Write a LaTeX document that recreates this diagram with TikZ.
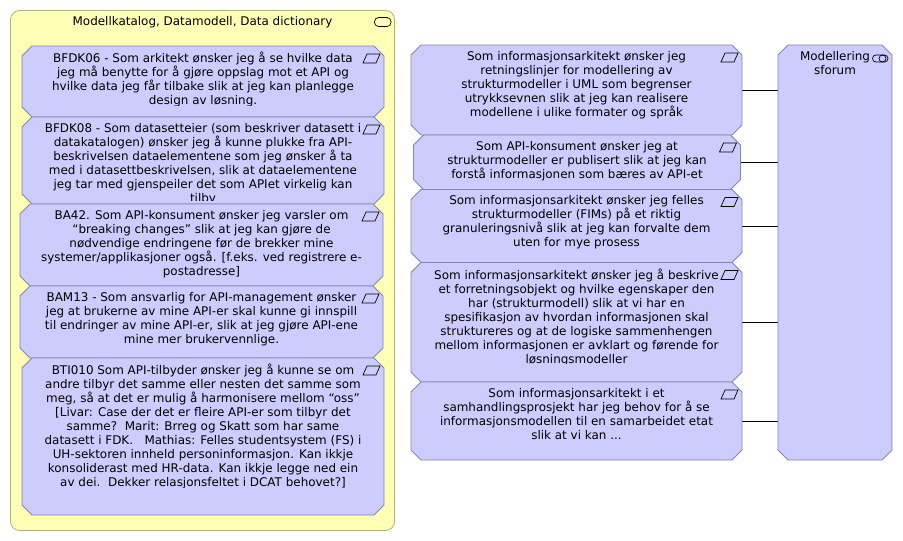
\documentclass[tikz,border=0pt]{standalone}
\usepackage{fontspec}
\setmainfont{DejaVu Sans}
\usetikzlibrary{calc}
\definecolor{boxfill}{HTML}{CCCCFF}
\definecolor{boxline}{HTML}{8484AE}
\definecolor{grpfill}{HTML}{FFFFB5}
\definecolor{grpline}{HTML}{B2B27A}
\tikzset{
  storyshape/.style={draw=boxline,fill=boxfill,line width=0.8pt,line join=miter},
  storybox/.style={rectangle,inner sep=0pt,outer sep=0pt},
  storytext/.style={anchor=north,align=center,inner sep=0pt,outer sep=0pt,text=black,
    font=\fontsize{11.95}{14}\selectfont},
  grpbox/.style={draw=grpline,fill=grpfill,line width=0.8pt,rounded corners=9pt},
  icon/.style={draw=black,line width=0.7pt},
  conn/.style={draw=black,line width=0.8pt},
}
% name, x1, y1, x2, y2, number of text lines, text
\newcommand{\storyb}[7]{%
  \node[storybox,minimum width={(#4-#2)*1pt},minimum height={(#5-#3)*1pt}] (#1) at ({(#2+#4)/2},{(#3+#5)/2}) {};
  \draw[storyshape] ($(#1.north west)+(10,0)$) -- ($(#1.north east)+(-10,0)$) -- ($(#1.north east)+(0,10)$)
    -- ($(#1.south east)+(0,-10)$) -- ($(#1.south east)+(-10,0)$) -- ($(#1.south west)+(10,0)$)
    -- ($(#1.south west)+(0,-10)$) -- ($(#1.north west)+(0,10)$) -- cycle;
  \begin{scope}
    \clip (#2,#3) rectangle (#4,{min(#3+17+14*(#6-1),#5-4)});
    \node[storytext] (#1-t) at ($(#1.north)+(0,6.2)$) {#7};
  \end{scope}
}
\newcommand{\paraicon}[1]{%
  \draw[icon] ($(#1.north east)+(-21,17)$) -- ($(#1.north east)+(-17,8)$) -- ($(#1.north east)+(-4,8)$) -- ($(#1.north east)+(-8,17)$) -- cycle;
}
\begin{document}
\begin{tikzpicture}[x=1pt,y=-1pt]
\useasboundingbox (0,0) rectangle (903,541);
\draw[grpbox] (10.5,10.5) rectangle (394.5,530.5);
\coordinate (grpne) at (394.5,10.5);
\node[storytext] (grptitle) at (202.5,16.7) {Modellkatalog, Datamodell, Data dictionary};
\draw[icon,rounded corners=4pt] ($(grpne)+(-20,7)$) rectangle ($(grpne)+(-3.5,16)$);

\storyb{a}{22}{46}{384}{117}{4}{BFDK06 - Som arkitekt ønsker jeg å se hvilke data\\jeg må benytte for å gjøre oppslag mot et API og\\hvilke data jeg får tilbake slik at jeg kan planlegge\\design av løsning.}
\paraicon{a}
\storyb{b}{22}{117}{384}{204}{6}{BFDK08 - Som datasetteier (som beskriver datasett i\\datakatalogen) ønsker jeg å kunne plukke fra API-\\beskrivelsen dataelementene som jeg ønsker å ta\\med i datasettbeskrivelsen, slik at dataelementene\\jeg tar med gjenspeiler det som APIet virkelig kan\\tilby}
\paraicon{b}
\storyb{c}{20}{204}{383}{286}{5}{BA42. Som API-konsument ønsker jeg varsler om\\“breaking changes” slik at jeg kan gjøre de\\nødvendige endringene før de brekker mine\\systemer/applikasjoner også. [f.eks. ved registrere e-\\postadresse]}
\paraicon{c}
\storyb{d}{20}{286}{383}{358}{4}{BAM13 - Som ansvarlig for API-management ønsker\\jeg at brukerne av mine API-er skal kunne gi innspill\\til endringer av mine API-er, slik at jeg gjøre API-ene\\mine mer brukervennlige.}
\paraicon{d}
\storyb{e}{22}{358}{384}{515}{9}{BTI010 Som API-tilbyder ønsker jeg å kunne se om\\andre tilbyr det samme eller nesten det samme som\\meg, så at det er mulig å harmonisere mellom “oss”\\{}[Livar: Case der det er fleire API-er som tilbyr det\\samme?\ \ Marit: Brreg og Skatt som har same\\datasett i FDK.\ \ \ Mathias: Felles studentsystem (FS) i\\UH-sektoren innheld personinformasjon. Kan ikkje\\konsoliderast med HR-data. Kan ikkje legge ned ein\\av dei.\ \ Dekker relasjonsfeltet i DCAT behovet?]}
\paraicon{e}

\storyb{r}{411}{45}{742}{135}{5}{Som informasjonsarkitekt ønsker jeg\\retningslinjer for modellering av\\strukturmodeller i UML som begrenser\\utrykksevnen slik at jeg kan realisere\\modellene i ulike formater og språk}
\paraicon{r}
\storyb{s}{413.5}{135}{740.5}{189.5}{3}{Som API-konsument ønsker jeg at\\strukturmodeller er publisert slik at jeg kan\\forstå informasjonen som bæres av API-et}
\paraicon{s}
\storyb{t}{411}{189.5}{742}{262.5}{4}{Som informasjonsarkitekt ønsker jeg felles\\strukturmodeller (FIMs) på et riktig\\granuleringsnivå slik at jeg kan forvalte dem\\uten for mye prosess}
\paraicon{t}
\storyb{u}{411}{262.5}{742}{382}{7}{Som informasjonsarkitekt ønsker jeg å beskrive\\et forretningsobjekt og hvilke egenskaper den\\har (strukturmodell) slik at vi har en\\spesifikasjon av hvordan informasjonen skal\\struktureres og at de logiske sammenhengen\\mellom informasjonen er avklart og førende for\\løsningsmodeller}
\paraicon{u}
\storyb{v}{411}{382}{742}{460}{4}{Som informasjonsarkitekt i et\\samhandlingsprosjekt har jeg behov for å se\\informasjonsmodellen til en samarbeidet etat\\slik at vi kan ...}
\paraicon{v}

\storyb{forum}{778}{45}{892}{460}{2}{Modellering\\sforum}
\draw[icon,rounded corners=3.4pt] ($(forum.north east)+(-19.5,10)$) rectangle ($(forum.north east)+(-4,17)$);
\draw[icon] ($(forum.north east)+(-9.5,13.5)$) circle (3.5pt);

\foreach \n in {r,s,t,u,v}
  \draw[conn] (\n.east) -- (\n.east -| forum.west);
\end{tikzpicture}
\end{document}
